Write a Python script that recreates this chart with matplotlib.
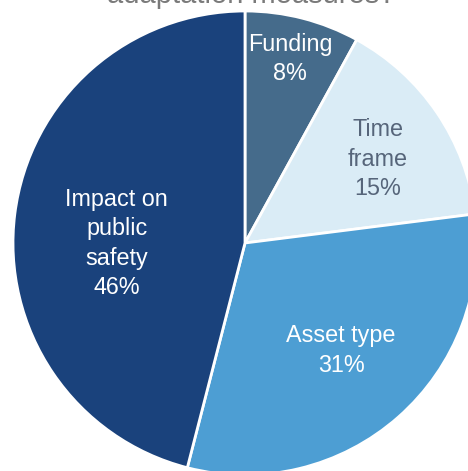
import matplotlib.pyplot as plt

# Slice data (clockwise from 12 o'clock)
labels = ['Funding', 'Time\nframe', 'Asset type', 'Impact on\npublic\nsafety']
shares = [8, 15, 31, 46]
colors = ['#456b8b', '#daecf6', '#4d9ed3', '#1a427c']
text_colors = ['white', '#56657a', 'white', 'white']

plt.rcParams['font.family'] = ['Liberation Sans', 'DejaVu Sans']

fig = plt.figure(figsize=(4.68, 4.71), dpi=100)

# pie centre ~ (245, 243) px from top-left, radius ~232 px; it runs off the right/bottom edge
W, H = 468, 471
cx, cy, R = 245, 243, 232
ax = fig.add_axes([(cx - R) / W, (H - cy - R) / H, 2 * R / W, 2 * R / H])

wedges, _ = ax.pie(shares, colors=colors, startangle=90, counterclock=False,
                   wedgeprops=dict(edgecolor='white', linewidth=2))
ax.set_xlim(-1, 1)
ax.set_ylim(-1, 1)
ax.set_aspect('equal')
ax.axis('off')

# label centres inside each slice (pie radius = 1)
label_pos = [(0.194, 0.792), (0.573, 0.362), (0.414, -0.464), (-0.553, -0.002)]
for lab, pct, tc, (x, y) in zip(labels, shares, text_colors, label_pos):
    ax.text(x, y, f'{lab}\n{pct}%', ha='center', va='center', color=tc,
            fontsize=16.8, linespacing=1.36)

# last line of the title, mostly cut off by the top edge as in the original
fig.text(0.537, 1 - 3 / H, 'adaptation measures?', ha='center', va='baseline',
         color='#7a7a7a', fontsize=21)

fig.savefig('out.png', dpi=100)
